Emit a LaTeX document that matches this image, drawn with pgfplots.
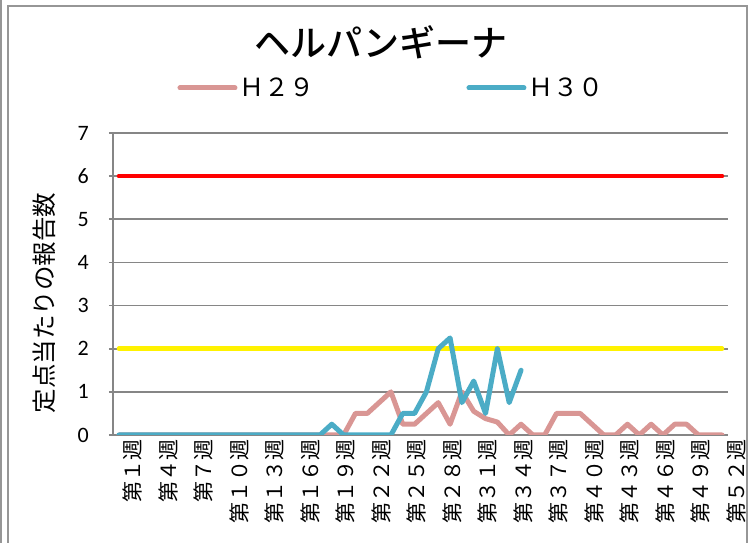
\documentclass[border=0pt]{standalone}
\usepackage{fontspec}
\usepackage{pgfplots}
\pgfplotsset{compat=1.18}
\setmainfont{Noto Sans CJK JP}
\newfontfamily\cjk{Noto Sans CJK JP}
\newfontfamily\cjkb{Noto Sans CJK JP Medium}
\newfontfamily\lat{Carlito}

\definecolor{h29}{RGB}{217,150,148}
\definecolor{h30}{RGB}{75,172,198}
\definecolor{gridgray}{RGB}{134,134,134}
\definecolor{framegray}{RGB}{150,150,150}

\begin{document}
\begin{tikzpicture}
\useasboundingbox (0pt,0pt) rectangle (756pt,543pt);
\begin{axis}[
    at={(113pt,108pt)}, anchor=south west,
    scale only axis, width=615pt, height=302pt,
    xmin=0.5, xmax=52.5, ymin=0, ymax=7,
    axis lines*=left,
    axis line style={draw=gridgray, line width=1.6pt},
    ymajorgrids,
    grid style={draw=gridgray, line width=1.6pt},
    ytick={0,1,...,7},
    tick align=outside,
    major tick length=4pt,
    ytick style={draw=gridgray, line width=1.6pt},
    xtick style={draw=none},
    /pgf/number format/assume math mode=true,
    yticklabel style={font=\lat\fontsize{22}{24}\selectfont, inner sep=0pt, xshift=-20pt},
    xtick={1,4,7,10,13,16,19,22,25,28,31,34,37,40,43,46,49,52},
    xticklabels={第１週,第４週,第７週,第１０週,第１３週,第１６週,第１９週,第２２週,第２５週,第２８週,第３１週,第３４週,第３７週,第４０週,第４３週,第４６週,第４９週,第５２週},
    xticklabel style={rotate=90, anchor=east, inner sep=0pt, yshift=-14pt,
        font=\cjk\fontsize{21}{22}\selectfont},
    ylabel={定点当たりの報告数},
    ylabel style={at={(axis description cs:-0.112,0.437)}, anchor=center,
        font=\cjk\fontsize{24.5}{26}\selectfont},
    legend columns=2,
    legend style={at={(axis description cs:0.4528,1.149)}, anchor=center,
        draw=none, fill=none, font=\cjk\fontsize{25}{26}\selectfont,
        /tikz/every even column/.append style={column sep=150pt}},
    legend image code/.code={\draw[#1, line width=5pt, line cap=round] (0pt,0pt) -- (55pt,0pt);},
    every axis plot/.append style={line join=round, line cap=round},
]
\addplot[red, line width=4.5pt, forget plot] coordinates {(1,6) (52,6)};
\addplot[yellow, line width=4.5pt, forget plot] coordinates {(1,2) (52,2)};

\addplot[h29, line width=5pt, mark=none] coordinates {
(1,0) (2,0) (3,0) (4,0) (5,0) (6,0) (7,0) (8,0) (9,0) (10,0)
(11,0) (12,0) (13,0) (14,0) (15,0) (16,0) (17,0) (18,0) (19,0) (20,0)
(21,0.5) (22,0.5) (23,0.75) (24,1.0) (25,0.25) (26,0.25) (27,0.5) (28,0.75) (29,0.25) (30,1.0)
(31,0.55) (32,0.38) (33,0.3) (34,0) (35,0.25) (36,0) (37,0) (38,0.5) (39,0.5) (40,0.5)
(41,0.25) (42,0) (43,0) (44,0.25) (45,0) (46,0.25) (47,0) (48,0.25) (49,0.25) (50,0)
(51,0) (52,0)};
\addlegendentry{Ｈ２９}

\addplot[h30, line width=5pt, mark=none] coordinates {
(1,0) (2,0) (3,0) (4,0) (5,0) (6,0) (7,0) (8,0) (9,0) (10,0)
(11,0) (12,0) (13,0) (14,0) (15,0) (16,0) (17,0) (18,0) (19,0.25) (20,0)
(21,0) (22,0) (23,0) (24,0) (25,0.5) (26,0.5) (27,1.0) (28,2.0) (29,2.25) (30,0.75)
(31,1.25) (32,0.5) (33,2.0) (34,0.75) (35,1.5)};
\addlegendentry{Ｈ３０}
\end{axis}
\node[font=\cjkb\fontsize{36}{38}\selectfont] at (381pt,501pt) {ヘルパンギーナ};
\draw[framegray, line width=2pt] (8pt,-10pt) -- (8pt,537pt) -- (747pt,537pt) -- (747pt,-10pt);
\draw[framegray, line width=1.5pt] (1pt,-10pt) -- (1pt,553pt);
\end{tikzpicture}
\end{document}
